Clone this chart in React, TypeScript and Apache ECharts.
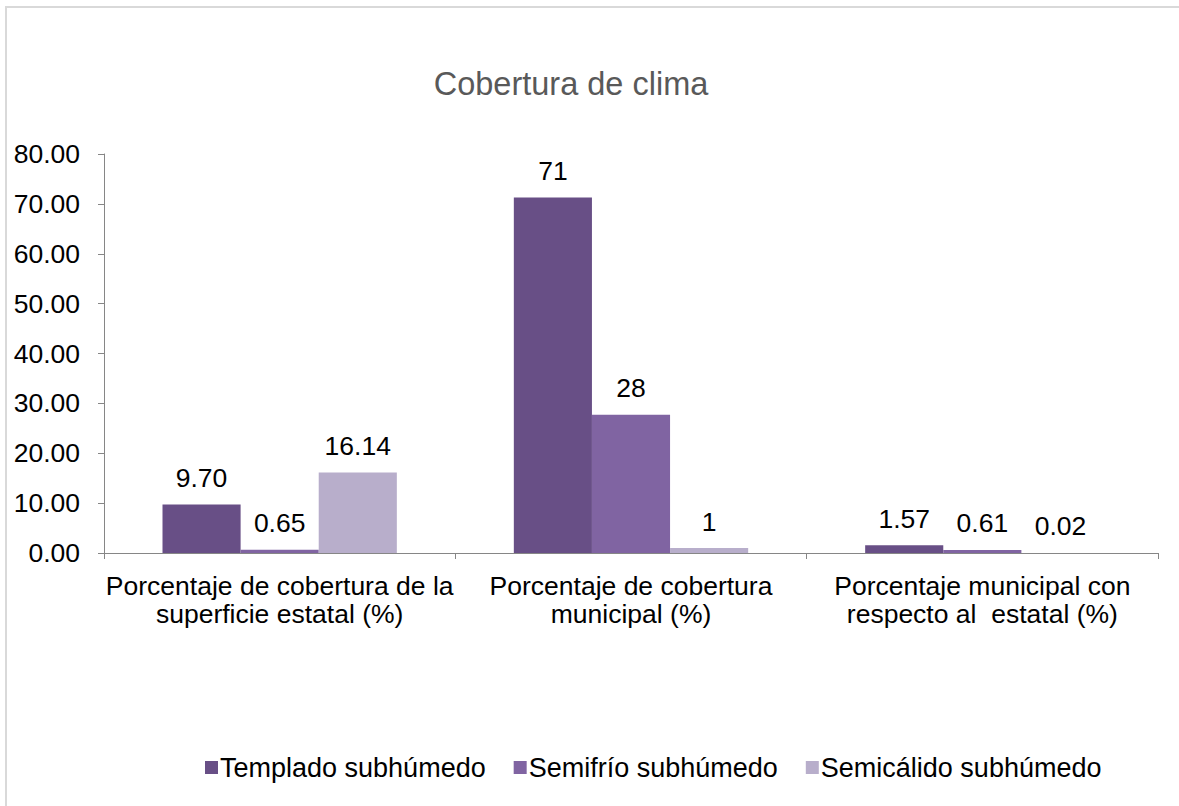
import React, { useEffect, useRef } from "react";
import * as echarts from "echarts";

const categories = [
  "Porcentaje de cobertura de la\nsuperficie estatal (%)",
  "Porcentaje de cobertura\nmunicipal (%)",
  "Porcentaje municipal con\nrespecto al  estatal (%)",
];
const seriesNames = ["Templado subhúmedo", "Semifrío subhúmedo", "Semicálido subhúmedo"];
const templado = [9.7, 71.3, 1.57];
const semifrio = [0.65, 27.7, 0.61];
const semicalido = [16.14, 0.98, 0.02];
const labelDecimals = [2, 0, 2];
const yTicks = { min: 0, max: 80, interval: 10 };
const colors = ["#684F86", "#8064A2", "#B8AECB"];

export default function App() {
  const ref = useRef<HTMLDivElement>(null);
  useEffect(() => {
    if (!ref.current) return;
    const chart = echarts.init(ref.current, null, { renderer: "svg" });
    const font = "'Liberation Sans', Arial, sans-serif";
    const fs = 26.5;
    const mk = (name: string, data: number[], color: string) => ({
      name,
      type: "bar",
      data,
      barGap: "0%",
      barCategoryGap: "33.3%",
      itemStyle: { color },
      label: {
        show: true,
        position: "top",
        distance: 13,
        color: "#000",
        fontSize: fs,
        fontFamily: font,
        formatter: (p: any) => p.value.toFixed(labelDecimals[p.dataIndex]),
      },
    });
    chart.setOption({
      animation: false,
      backgroundColor: "#fff",
      textStyle: { fontFamily: font },
      title: {
        text: "Cobertura de clima",
        left: 566,
        textAlign: "center",
        top: 62,
        textStyle: { color: "#595959", fontSize: 32.5, fontWeight: "normal", fontFamily: font },
      },
      graphic: [
        { type: "line", shape: { x1: 5, y1: 7, x2: 1179, y2: 7 }, style: { stroke: "#D9D9D9", lineWidth: 2 } },
        { type: "line", shape: { x1: 6, y1: 6, x2: 6, y2: 806 }, style: { stroke: "#D9D9D9", lineWidth: 2 } },
      ],
      legend: {
        left: 200,
        top: 749,
        itemWidth: 13,
        itemHeight: 13,
        itemGap: 28,
        icon: "rect",
        textStyle: { fontSize: 27, color: "#000", fontFamily: font, padding: [0, 0, 0, -3] },
        data: seriesNames,
      },
      grid: { left: 104, right: 21, top: 154, bottom: 253, containLabel: false },
      xAxis: {
        type: "category",
        data: categories,
        axisLine: { lineStyle: { color: "#868686", width: 1 } },
        axisTick: { show: true, length: 6, lineStyle: { color: "#868686" } },
        axisLabel: { color: "#000", fontSize: fs, margin: 19, lineHeight: 28, fontFamily: font, interval: 0 },
      },
      yAxis: {
        type: "value",
        min: yTicks.min,
        max: yTicks.max,
        interval: yTicks.interval,
        axisLine: { show: true, lineStyle: { color: "#868686", width: 1 } },
        axisTick: { show: true, length: 6, lineStyle: { color: "#868686" } },
        splitLine: { show: false },
        axisLabel: {
          color: "#000",
          fontSize: fs,
          margin: 24,
          fontFamily: font,
          formatter: (v: number) => v.toFixed(2),
        },
      },
      series: [
        mk(seriesNames[0], templado, colors[0]),
        mk(seriesNames[1], semifrio, colors[1]),
        mk(seriesNames[2], semicalido, colors[2]),
      ],
    });
    return () => chart.dispose();
  }, []);
  return <div ref={ref} style={{ position: "absolute", left: 0, top: 0, width: 1179, height: 806 }} />;
}
